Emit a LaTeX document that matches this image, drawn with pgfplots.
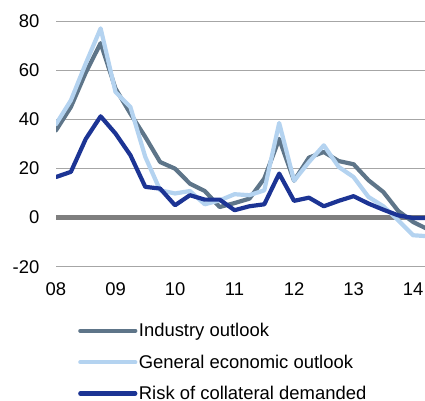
\documentclass[border=0pt]{standalone}
\usepackage{fontspec}
\setmainfont{Liberation Sans}
\usepackage{pgfplots}
\pgfplotsset{compat=1.18}
\definecolor{indgray}{RGB}{94,117,137}
\definecolor{genblue}{RGB}{180,211,240}
\definecolor{riskblue}{RGB}{28,52,148}
\definecolor{zerogray}{RGB}{127,127,127}
\definecolor{gridgray}{RGB}{166,166,166}
\begin{document}
\begin{tikzpicture}
\begin{axis}[
  at={(0,0)}, anchor=south west,
  scale only axis,
  width=369bp, height=245.7bp,
  xmin=8, xmax=14.2,
  ymin=-20, ymax=80,
  axis line style={draw=none},
  tick style={draw=none},
  ymajorgrids,
  major grid style={gridgray, line width=0.9bp},
  major tick length=0pt,
  xtick={8,9,10,11,12,13,14},
  xticklabels={08,09,10,11,12,13,14},
  ytick={-20,0,20,40,60,80},
  yticklabels={-20,0,20,40,60,80},
  every tick label/.append style={font=\fontsize{18.5}{22}\selectfont},
  yticklabel style={anchor=east, inner sep=0pt, xshift=-16.5bp},
  xticklabel style={anchor=north, inner sep=0pt, yshift=-16bp},
  clip=true,
  legend cell align=left,
  legend style={draw=none, fill=none, font=\fontsize{18.5}{22}\selectfont,
    at={(axis description cs:0,0)}, anchor=north west,
    xshift=22bp, yshift=-55bp, inner sep=0pt, row sep=13.5bp,
    nodes={inner sep=1.5bp}},
  legend image code/.code={\draw[#1, line cap=round] (0bp,0bp) -- (55bp,0bp);},
  every axis plot/.append style={line width=4.2bp, line join=round, line cap=round},
]
\addplot[zerogray, line width=4.3bp, line cap=butt, forget plot] coordinates {(8,0) (14.2,0)};
\addplot[indgray] coordinates {
(8.00,35.5) (8.25,45) (8.50,59) (8.75,71) (9.00,52.5) (9.25,42.3) (9.50,32.8) (9.75,22.6)
(10.00,19.9) (10.25,13.8) (10.50,10.8) (10.75,4.3) (11.00,5.9) (11.25,7.7) (11.50,15.9) (11.75,32)
(12.00,15) (12.25,24.4) (12.50,26.7) (12.75,23) (13.00,21.7) (13.25,15.2) (13.50,10.4) (13.75,2.7)
(14.00,-1.8) (14.25,-4.8)};
\addlegendentry{Industry outlook}
\addplot[genblue] coordinates {
(8.00,38) (8.25,47.7) (8.50,62.7) (8.75,77) (9.00,51.1) (9.25,45) (9.50,24.7) (9.75,11.1)
(10.00,9.8) (10.25,10.8) (10.50,5.4) (10.75,7) (11.00,9.5) (11.25,9.1) (11.50,11.1) (11.75,38.5)
(12.00,15) (12.25,22.6) (12.50,29.4) (12.75,20.6) (13.00,16.5) (13.25,8.4) (13.50,4.6) (13.75,-1.1)
(14.00,-7.2) (14.25,-7.6)};
\addlegendentry{General economic outlook}
\addplot[riskblue] coordinates {
(8.00,16.5) (8.25,18.6) (8.50,32) (8.75,41.2) (9.00,34.2) (9.25,25.4) (9.50,12.5) (9.75,11.8)
(10.00,5) (10.25,9.1) (10.50,7.3) (10.75,7.3) (11.00,3) (11.25,4.6) (11.50,5.4) (11.75,17.9)
(12.00,6.8) (12.25,8.1) (12.50,4.6) (12.75,6.8) (13.00,8.7) (13.25,5.7) (13.50,3.2) (13.75,0.9)
(14.00,-0.2) (14.25,-0.2)};
\addlegendentry{Risk of collateral demanded}
\end{axis}
\pgfresetboundingbox
\path[use as bounding box] (-56bp,-134.3bp) rectangle (369bp,266.7bp);
\end{tikzpicture}
\end{document}
